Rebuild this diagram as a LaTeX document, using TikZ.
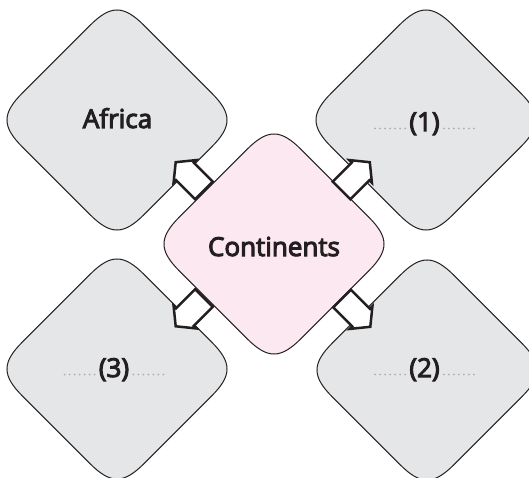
\documentclass[tikz,border=0pt]{standalone}
\usepackage{fontspec}
\setmainfont{Open Sans}
\newfontfamily\lblfont{Open Sans}[FakeBold=4]
\usetikzlibrary{calc}
\definecolor{boxgray}{HTML}{E5E6E8}
\definecolor{boxpink}{HTML}{FCE8F0}
\definecolor{ink}{HTML}{231F20}
\definecolor{dotgray}{HTML}{AEAEAE}
\tikzset{
  diaedge/.style={draw=ink, line width=1pt},
  rdia/.pic={\path[diaedge, fill=#1]
    (-26.87,-94.73) .. controls (-6.5,-115.1) and (6.5,-115.1) .. (26.87,-94.73)
    -- (94.73,-26.87) .. controls (115.1,-6.5) and (115.1,6.5) .. (94.73,26.87)
    -- (26.87,94.73) .. controls (6.5,115.1) and (-6.5,115.1) .. (-26.87,94.73)
    -- (-94.73,26.87) .. controls (-115.1,6.5) and (-115.1,-6.5) .. (-94.73,-26.87)
    -- cycle;},
  lbl/.style={anchor=base, inner sep=0pt, text=ink, font=\lblfont\fontsize{26}{30}\selectfont},
  dotline/.style={draw=dotgray, line width=2pt, line cap=round, dash pattern=on 0pt off 5pt},
  blockarrow/.pic={\draw[draw=ink, fill=white, line width=2.5pt, line join=miter] (-12,-12.5) -- (15,-12.5) -- (15,-16) -- (28,0) -- (15,16) -- (15,12.5) -- (-12,12.5) -- cycle;}
}
\begin{document}
\begin{tikzpicture}[x=1pt,y=-1pt]
\useasboundingbox (0,0) rectangle (529,478);
\clip (0,0) rectangle (529,478);
\coordinate (africa) at (117,120);
\coordinate (one) at (426,120);
\coordinate (three) at (117,369);
\coordinate (two) at (427,370);
\coordinate (cont) at (274,244);
\pic at (africa) {rdia=boxgray};
\pic at (one) {rdia=boxgray};
\pic at (three) {rdia=boxgray};
\pic at (two) {rdia=boxgray};
\pic at (cont) {rdia=boxpink};
\pic[rotate=135] at ($(cont)!0.5!(africa)$) {blockarrow};
\pic[rotate=45] at ($(cont)!0.5!(one)$) {blockarrow};
\pic[rotate=-45] at ($(cont)!0.5!(two)$) {blockarrow};
\pic[rotate=-135] at ($(cont)!0.5!(three)$) {blockarrow};
\node[lbl] (tafrica) at (117.5,128) {Africa};
\node[lbl] (tcont) at (274,256) {Continents};
\node[lbl] (t1) at (424.5,131) {(1)};
\node[lbl] (t2) at (424.5,377) {(2)};
\node[lbl] (t3) at (114,377) {(3)};
\foreach \t in {t1,t2,t3}{
  \draw[dotline] ([xshift=-4pt,yshift=2.5pt]\t.base west) -- ++(-30,0);
  \draw[dotline] ([xshift=4pt,yshift=2.5pt]\t.base east) -- ++(33,0);
}
\end{tikzpicture}
\end{document}
